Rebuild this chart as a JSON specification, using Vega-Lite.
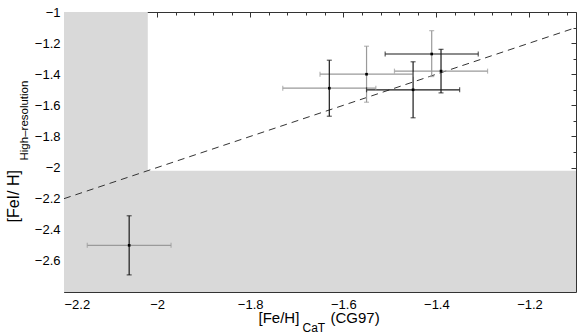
{
  "$schema": "https://vega.github.io/schema/vega-lite/v6.json",
  "width": 512,
  "height": 280,
  "autosize": {"type": "none"},
  "padding": {"left": 64, "top": 12, "right": 5, "bottom": 43},
  "background": "white",
  "config": {
    "view": {"stroke": null},
    "font": "Liberation Sans",
    "axis": {"grid": false, "labelFont": "Liberation Sans", "titleFont": "Liberation Sans", "labelColor": "#000", "titleColor": "#000", "titleFontWeight": "normal", "domainColor": "#333", "tickColor": "#333", "zindex": 1}
  },
  "datasets": {
    "regions": [
      {"x0": -2.2, "x1": -2.02, "y0": -2.8, "y1": -1.0},
      {"x0": -2.2, "x1": -1.1, "y0": -2.8, "y1": -2.02}
    ],
    "oneToOne": [
      {"x": -2.2, "y": -2.2},
      {"x": -1.1, "y": -1.1}
    ],
    "stars": [
      {"id": "A", "x": -2.06, "xlo": -2.15, "xhi": -1.97, "y": -2.50, "ylo": -2.69, "yhi": -2.31, "hShade": "light", "vShade": "dark"},
      {"id": "B", "x": -1.63, "xlo": -1.73, "xhi": -1.53, "y": -1.49, "ylo": -1.67, "yhi": -1.31, "hShade": "light", "vShade": "dark"},
      {"id": "C", "x": -1.55, "xlo": -1.65, "xhi": -1.45, "y": -1.40, "ylo": -1.58, "yhi": -1.22, "hShade": "light", "vShade": "light"},
      {"id": "D", "x": -1.45, "xlo": -1.55, "xhi": -1.35, "y": -1.50, "ylo": -1.68, "yhi": -1.32, "hShade": "dark", "vShade": "dark"},
      {"id": "E", "x": -1.41, "xlo": -1.51, "xhi": -1.31, "y": -1.27, "ylo": -1.415, "yhi": -1.12, "hShade": "dark", "vShade": "light"},
      {"id": "F", "x": -1.39, "xlo": -1.49, "xhi": -1.29, "y": -1.38, "ylo": -1.52, "yhi": -1.24, "hShade": "light", "vShade": "dark"}
    ]
  },
  "resolve": {"axis": {"x": "independent", "y": "independent"}},
  "layer": [
    {
      "data": {"name": "regions"},
      "mark": {"type": "rect", "color": "#d9d9d9"},
      "encoding": {
        "x": {"field": "x0", "type": "quantitative",
          "scale": {"domain": [-2.2, -1.1], "nice": false, "zero": false},
          "axis": {"orient": "bottom", "values": [-2.2, -2.0, -1.8, -1.6, -1.4, -1.2], "format": "~g", "tickSize": -5, "labelPadding": 11, "labelFontSize": 13, "domain": true,
            "title": "[Fe/H]", "titleX": 194, "titleY": 30, "titleAlign": "left", "titleBaseline": "alphabetic", "titleFontSize": 15}},
        "x2": {"field": "x1"},
        "y": {"field": "y0", "type": "quantitative",
          "scale": {"domain": [-2.8, -1.0], "nice": false, "zero": false},
          "axis": {"orient": "left", "values": [-2.6, -2.4, -2.2, -2.0, -1.8, -1.6, -1.4, -1.2, -1.0], "format": "~g", "tickSize": -5, "labelPadding": 9, "labelFontSize": 13, "domain": true,
            "title": "[FeI/ H]", "titleX": -46, "titleY": 210, "titleAngle": 270, "titleAlign": "left", "titleBaseline": "alphabetic", "titleFontSize": 16}},
        "y2": {"field": "y1"}
      }
    },
    {
      "data": {"name": "oneToOne"},
      "mark": {"type": "line", "color": "#333", "strokeWidth": 1, "strokeDash": [7, 5]},
      "encoding": {
        "x": {"field": "x", "type": "quantitative",
          "axis": {"orient": "bottom", "values": [-2.16, -2.12, -2.08, -2.04, -1.96, -1.92, -1.88, -1.84, -1.76, -1.72, -1.68, -1.64, -1.56, -1.52, -1.48, -1.44, -1.36, -1.32, -1.28, -1.24, -1.16, -1.12], "tickSize": -3, "labels": false, "domain": false,
            "title": "CaT", "titleX": 238, "titleY": 39, "titleAlign": "left", "titleBaseline": "alphabetic", "titleFontSize": 12}},
        "y": {"field": "y", "type": "quantitative",
          "axis": {"orient": "left", "values": [-2.7, -2.5, -2.3, -2.1, -1.9, -1.7, -1.5, -1.3, -1.1], "tickSize": -3, "labels": false, "domain": false,
            "title": "High–resolution", "titleX": -37, "titleY": 148, "titleAngle": 270, "titleAlign": "left", "titleBaseline": "alphabetic", "titleFontSize": 11.5}}
      }
    },
    {
      "data": {"name": "stars"},
      "mark": {"type": "rule", "strokeWidth": 1.2},
      "encoding": {
        "x": {"field": "xlo", "type": "quantitative",
          "axis": {"orient": "top", "values": [-2.2, -2.0, -1.8, -1.6, -1.4, -1.2], "tickSize": -5, "labels": false, "domain": true, "title": null}},
        "x2": {"field": "xhi"},
        "y": {"field": "y", "type": "quantitative",
          "axis": {"orient": "right", "values": [-2.6, -2.4, -2.2, -2.0, -1.8, -1.6, -1.4, -1.2, -1.0], "tickSize": -5, "labels": false, "domain": true, "title": null}},
        "color": {"field": "hShade", "type": "nominal", "scale": {"domain": ["light", "dark"], "range": ["#9a9a9a", "#1a1a1a"]}, "legend": null}
      }
    },
    {
      "data": {"name": "stars"},
      "mark": {"type": "rule", "strokeWidth": 1.2},
      "encoding": {
        "x": {"field": "x", "type": "quantitative",
          "axis": {"orient": "top", "values": [-2.16, -2.12, -2.08, -2.04, -1.96, -1.92, -1.88, -1.84, -1.76, -1.72, -1.68, -1.64, -1.56, -1.52, -1.48, -1.44, -1.36, -1.32, -1.28, -1.24, -1.16, -1.12], "tickSize": -3, "labels": false, "domain": false, "title": null}},
        "y": {"field": "ylo", "type": "quantitative",
          "axis": {"orient": "right", "values": [-2.7, -2.5, -2.3, -2.1, -1.9, -1.7, -1.5, -1.3, -1.1], "tickSize": -3, "labels": false, "domain": false, "title": null}},
        "y2": {"field": "yhi"},
        "color": {"field": "vShade", "type": "nominal", "legend": null}
      }
    },
    {
      "data": {"name": "stars"},
      "transform": [{"fold": ["xlo", "xhi"], "as": ["capEnd", "capX"]}],
      "mark": {"type": "tick", "orient": "vertical", "size": 5, "thickness": 1.2},
      "encoding": {
        "x": {"field": "capX", "type": "quantitative",
          "axis": {"orient": "bottom", "ticks": false, "labels": false, "domain": false,
            "title": "(CG97)", "titleX": 266, "titleY": 30, "titleAlign": "left", "titleBaseline": "alphabetic", "titleFontSize": 15}},
        "y": {"field": "y", "type": "quantitative", "axis": null},
        "color": {"field": "hShade", "type": "nominal", "legend": null}
      }
    },
    {
      "data": {"name": "stars"},
      "transform": [{"fold": ["ylo", "yhi"], "as": ["capEnd", "capY"]}],
      "mark": {"type": "tick", "orient": "horizontal", "size": 5, "thickness": 1.2},
      "encoding": {
        "x": {"field": "x", "type": "quantitative", "axis": null},
        "y": {"field": "capY", "type": "quantitative", "axis": null},
        "color": {"field": "vShade", "type": "nominal", "legend": null}
      }
    },
    {
      "data": {"name": "stars"},
      "mark": {"type": "square", "color": "#000", "filled": true, "size": 7, "opacity": 1},
      "encoding": {
        "x": {"field": "x", "type": "quantitative", "axis": null},
        "y": {"field": "y", "type": "quantitative", "axis": null}
      }
    }
  ]
}
